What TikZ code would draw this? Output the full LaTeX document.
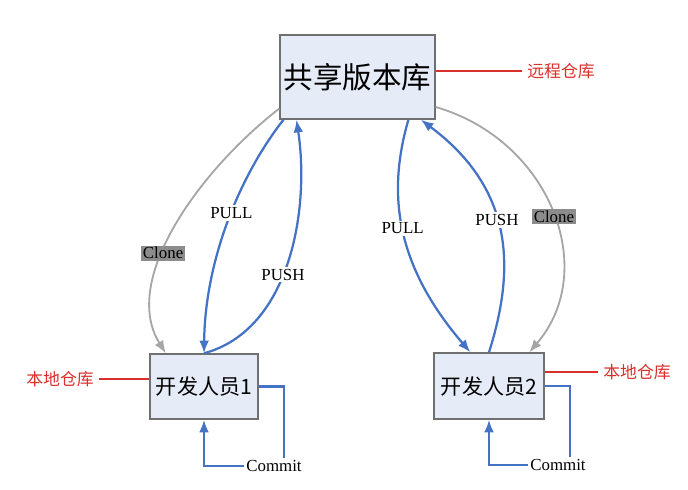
\documentclass[tikz,border=0pt]{standalone}
\usepackage{fontspec}
\setmainfont{Liberation Serif}
\newfontfamily\cjk{Noto Sans CJK SC}
\usetikzlibrary{arrows.meta}

\definecolor{boxfill}{HTML}{E6ECF7}
\definecolor{boxdraw}{HTML}{707070}
\definecolor{gitblue}{HTML}{4472C4}
\definecolor{clonegray}{HTML}{A6A6A6}
\definecolor{tagfill}{HTML}{8C8C8C}
\definecolor{lblred}{HTML}{D9302C}

\tikzset{
  repobox/.style={draw=boxdraw, line width=1pt, fill=boxfill, inner sep=0pt, font=\cjk},
  flow/.style={draw=gitblue, line width=1.6pt, -{Latex[length=9pt,width=7pt]}},
  cloneflow/.style={draw=clonegray, line width=1.3pt, -{Latex[length=9pt,width=7pt]}},
  tag/.style={fill=white, inner sep=1.5pt, text=black, font=\fontsize{12}{14}\selectfont},
  clonetag/.style={fill=tagfill, inner sep=1.2pt, text=black, font=\fontsize{12}{14}\selectfont},
  redlbl/.style={text=lblred, font=\cjk\fontsize{12}{14}\selectfont},
  redline/.style={draw=lblred, line width=0.8pt}
}

\begin{document}
\begin{tikzpicture}[x=0.025cm, y=-0.025cm]
\useasboundingbox (0,0) rectangle (688,490);

% repositories
\node[repobox, minimum width=3.875cm, minimum height=2.1cm, font=\cjk\fontsize{21}{25}\selectfont] (rep) at (357.5,77) {共享版本库};
\node[repobox, minimum width=2.7cm, minimum height=1.625cm, font=\cjk\fontsize{15}{18}\selectfont] (dev1) at (204,386.5) {开发人员1};
\node[repobox, minimum width=2.75cm, minimum height=1.65cm, font=\cjk\fontsize{15}{18}\selectfont] (dev2) at (489,386) {开发人员2};

% red side labels
\node[redlbl] (remote) at (561,71) {远程仓库};
\node[redlbl] (local1) at (60,379) {本地仓库};
\node[redlbl] (local2) at (637,372) {本地仓库};
\draw[redline] (rep.east |- remote.west) -- (remote.west);
\draw[redline] (local1.east) -- (local1.east -| dev1.west);
\draw[redline] (local2.west -| dev2.east) -- (local2.west);

% left developer
\draw[cloneflow] (rep.202) .. controls (200,170) and (120,280) .. (dev1.139)
  node[clonetag, pos=0.6] {Clone};
\draw[flow] (rep.210) .. controls (240,175) and (205,260) .. (dev1.north)
  node[tag, pos=0.46] {PULL};
\draw[flow] (dev1.north) .. controls (290,330) and (310,210) .. (rep.215)
  node[tag, pos=0.45] {PUSH};

% right developer
\draw[flow] (rep.320) .. controls (385,200) and (400,270) .. (dev2.119)
  node[tag, pos=0.47] {PULL};
\draw[flow] (dev2.north) .. controls (515,270) and (515,190) .. (rep.326)
  node[tag, pos=0.55] {PUSH};
\draw[cloneflow] (rep.339) .. controls (550,140) and (600,270) .. (dev2.40)
  node[clonetag, pos=0.52] {Clone};

% commits
\node[tag] (commit1) at (274,466) {Commit};
\node[tag] (commit2) at (558,465) {Commit};
\draw[flow, -] (dev1.east) -| ([xshift=0.25cm]commit1.north);
\draw[flow] (commit1.west) -| (dev1.south);
\draw[flow, -] (dev2.east) -| ([xshift=0.3cm]commit2.north);
\draw[flow] (commit2.west) -| (dev2.south);
\end{tikzpicture}
\end{document}
